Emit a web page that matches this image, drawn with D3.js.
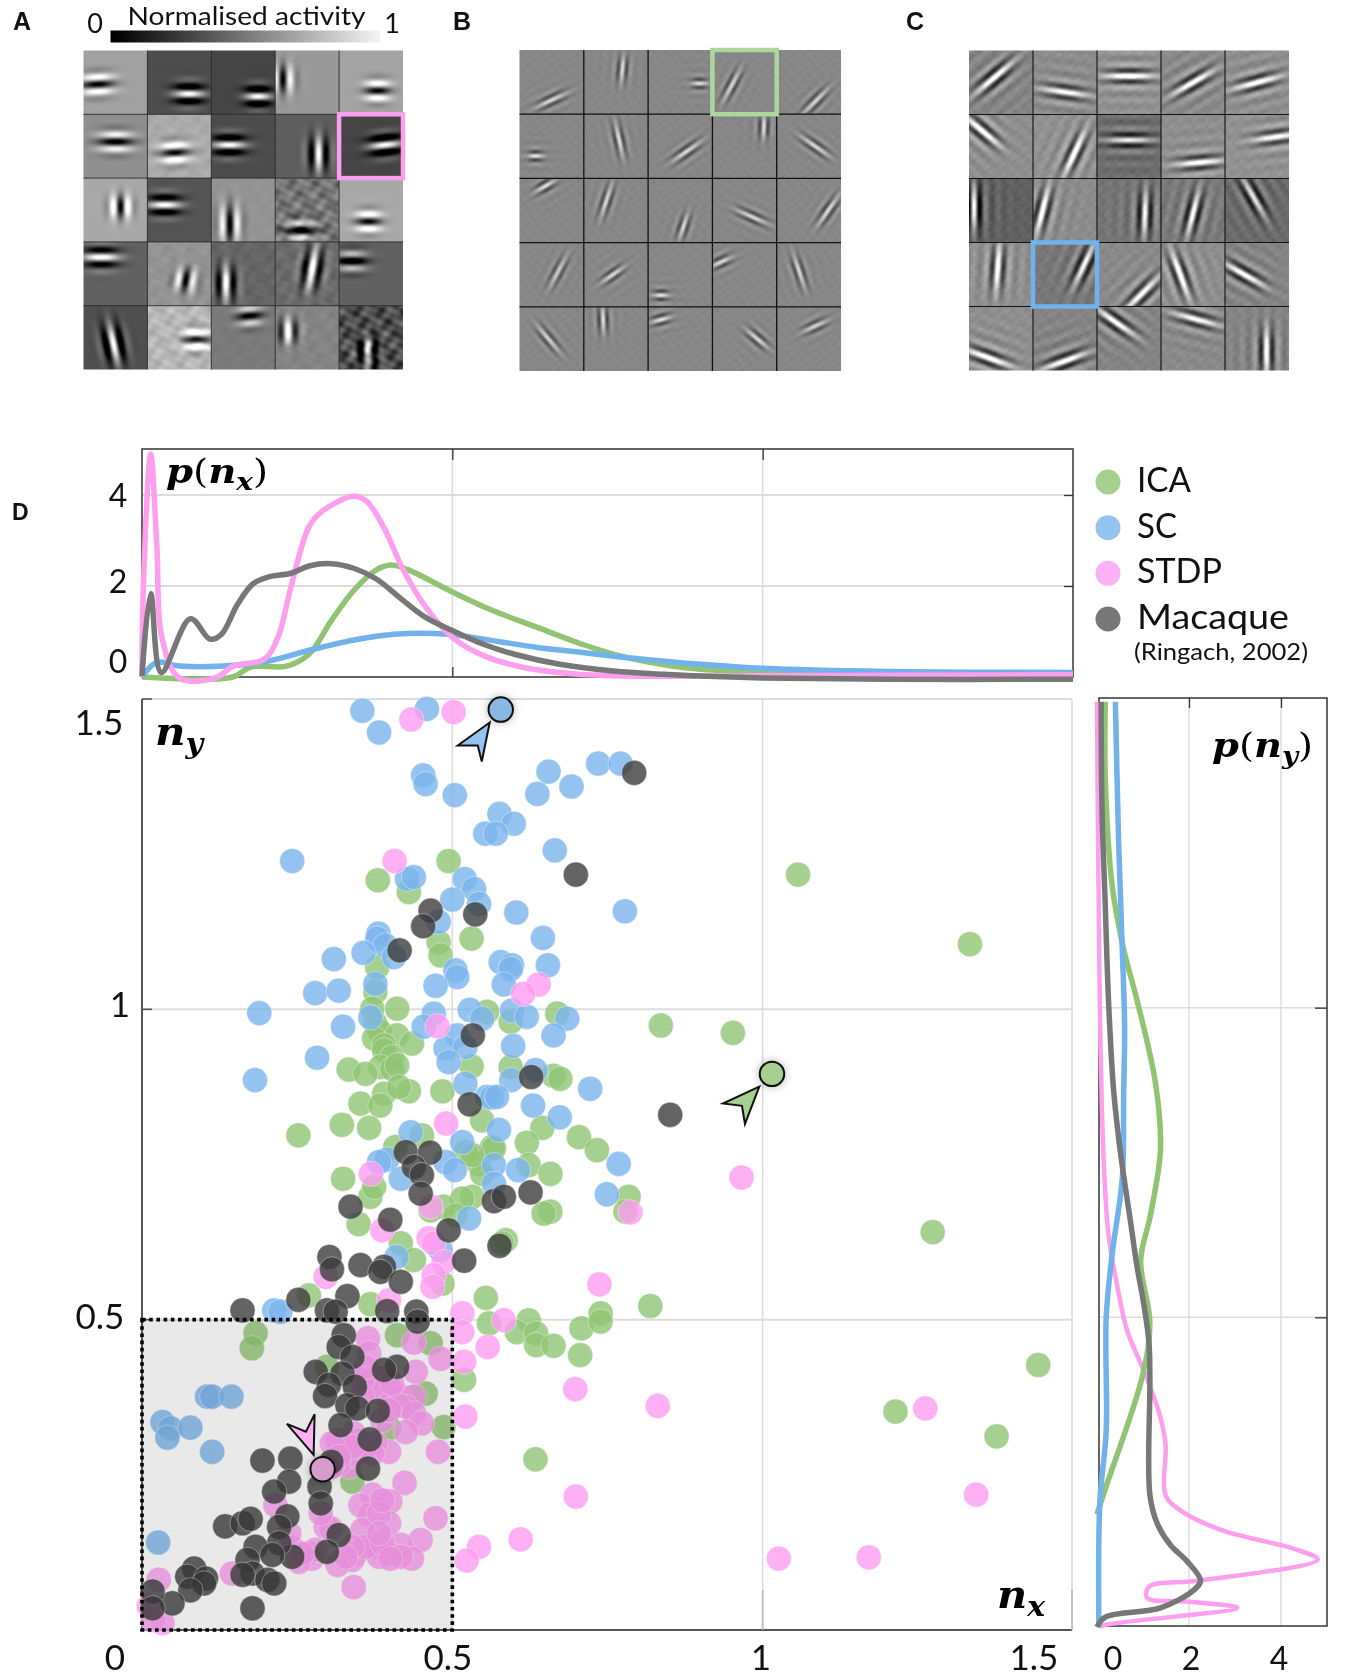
<!DOCTYPE html>
<html><head><meta charset="utf-8">
<style>html,body{margin:0;padding:0;background:#fff}svg{display:block}
text{font-family:Lato,sans-serif;fill:#111}
.panel{font-family:"Liberation Sans",sans-serif;font-weight:700}
.math{font-family:"DejaVu Serif",serif;font-weight:700;font-style:italic;fill:#000}
</style>
<script src="https://cdn.jsdelivr.net/npm/d3@7"></script></head><body>
<svg id="fig" width="1350" height="1677" viewBox="0 0 1350 1677"></svg>
<script>
// ---------- receptive-field tiles: [background, centre x, centre y, stripe angle, amplitude, along-stripe sigma, texture]
const tilesA=[
[.63,.22,.53,3,-.66,.14,0],[.3,.65,.68,0,.72,.13,0],[.27,.73,.72,0,.75,.11,0],[.6,.12,.45,90,-.62,.12,0],[.64,.6,.63,0,-.66,.11,0],
[.56,.5,.43,0,-.64,.15,0],[.67,.43,.6,3,-.66,.13,.02],[.3,.28,.48,0,.72,.14,0],[.37,.68,.62,90,.66,.15,0],[.27,.72,.48,6,.74,.14,0],
[.66,.58,.45,90,-.68,.1,0],[.33,.27,.42,0,.7,.14,0],[.58,.29,.72,90,-.62,.16,.01],[.46,.4,.82,0,-.6,.14,.09],[.66,.46,.68,0,-.66,.11,0],
[.38,.28,.24,0,.7,.15,0],[.58,.6,.6,80,-.62,.1,.02],[.4,.23,.65,90,.68,.15,.02],[.42,.58,.42,80,.68,.18,.03],[.38,.2,.3,0,-.58,.13,0],
[.31,.47,.6,-78,.72,.17,0],[.72,.77,.53,0,-.66,.12,.05],[.48,.6,.16,5,-.55,.11,.01],[.52,.2,.4,90,.6,.11,.02],[.3,.45,.72,90,.65,.13,.12]];
const tilesB=[
[.53,.5,.78,25,.3],[.53,.6,.3,85,.33,.12],[.53,.8,.52,0,.34,.07],[.53,.3,.55,62,.3],[.53,.6,.8,45,.3],
[.53,.25,.65,0,.36,.07],[.53,.55,.4,-78,.32],[.53,.6,.58,35,.32],[.53,.8,.2,88,.34,.11],[.53,.6,.5,-35,.3],
[.53,.4,.12,30,.34,.1],[.53,.35,.35,72,.3],[.53,.55,.75,72,.3,.12],[.53,.62,.6,-24,.3],[.53,.8,.5,55,.32],
[.53,.6,.45,62,.26],[.53,.45,.5,35,.3,.12],[.53,.2,.82,0,.36,.07],[.53,.14,.3,25,.32,.1],[.53,.35,.45,-72,.3],
[.53,.45,.5,-50,.28],[.53,.3,.2,-88,.34,.12],[.53,.2,.2,15,.34,.09],[.53,.7,.5,-40,.3,.13],[.53,.6,.3,25,.28,.12]];
const tilesC=[
[.52,.4,.42,40,.5],[.55,.5,.65,-8,.42],[.57,.5,.4,0,.5],[.54,.5,.5,30,.46],[.56,.5,.5,15,.46],
[.56,.2,.25,-40,.46],[.57,.65,.6,65,.46],[.43,.5,.4,0,.44],[.56,.6,.75,5,.44],[.57,.8,.35,8,.42],
[.38,.08,.45,90,.55],[.55,.15,.5,76,.48],[.46,.75,.55,88,.48],[.48,.5,.55,76,.48],[.42,.45,.3,-60,.44],
[.56,.45,.4,86,.46],[.47,.8,.35,65,.46],[.54,.7,.8,45,.44],[.56,.3,.5,-70,.48],[.52,.3,.5,-30,.46],
[.56,.3,.8,-20,.48],[.52,.5,.85,20,.48],[.52,.3,.25,-35,.46],[.54,.55,.2,-15,.42],[.52,.65,.7,90,.5]];

// ---------- distributions: [value, density] pairs
const pxICA=[[0,0],[.146,0],[.175,.22],[.233,.24],[.269,.5],[.305,1.24],[.341,1.9],[.377,2.35],[.402,2.46],[.428,2.36],[.5,1.87],[.565,1.46],[.637,1.09],[.709,.72],[.78,.43],[.854,.24],[.9,.17],[1,.1],[1.2,.05],[1.5,.03]];
const pxSC=[[0,0],[.024,.32],[.06,.24],[.132,.24],[.204,.35],[.276,.61],[.348,.83],[.406,.94],[.493,.94],[.565,.8],[.637,.65],[.709,.54],[.78,.43],[.9,.28],[1,.19],[1.2,.12],[1.5,.1]];
const pxSTDP=[[0,0],[.002,1.9],[.014,4.9],[.024,2.87],[.032,.87],[.06,-.02],[.118,-.02],[.147,.24],[.197,.39],[.219,.87],[.24,1.98],[.269,3.3],[.29,3.64],[.341,3.97],[.362,3.86],[.391,3.25],[.421,2.35],[.457,1.54],[.5,.87],[.55,.47],[.615,.21],[.695,.07],[.78,.02],[1,.03],[1.5,.05]];
const pxMacaque=[[0,.02],[.014,1.83],[.031,.1],[.078,1.28],[.11,.83],[.128,.94],[.154,1.6],[.179,2.05],[.204,2.2],[.24,2.28],[.269,2.44],[.305,2.49],[.341,2.39],[.377,2.16],[.421,1.68],[.457,1.31],[.5,1.02],[.55,.72],[.6,.5],[.673,.28],[.76,.13],[.84,.06],[.9,.02],[1,-.02],[1.2,-.05],[1.5,-.05]];
const pyICA=[[0,.182],[.18,.223],[.98,.403],[1.15,.49],[.95,.592],[1.16,.664],[1.38,.772],[1.27,.879],[.87,1.012],[.58,1.094],[.33,1.197],[.18,1.371],[.18,1.494]];
const pySC=[[.04,0],[.04,.141],[.07,.213],[.2,.316],[.2,.5],[.33,.602],[.55,.725],[.58,.859],[.6,.971],[.55,1.094],[.47,1.268],[.4,1.494]];
const pySTDP=[[.07,0],[.15,.003],[3.05,.031],[1.95,.041],[1.09,.047],[1.13,.065],[2.25,.075],[4.8,.109],[4.29,.126],[2.69,.157],[1.82,.188],[1.49,.213],[1.49,.295],[1.35,.346],[1.02,.413],[.65,.48],[.44,.551],[.25,.633],[.15,.746],[.09,.889],[.06,1.012],[.03,1.217],[0,1.494]];
const pyMacaque=[[0,0],[.18,.016],[1.38,.031],[2.11,.06],[2.25,.075],[1.96,.106],[1.6,.132],[1.31,.167],[1.15,.213],[1.15,.398],[1.13,.459],[1.02,.52],[.87,.582],[.73,.654],[.51,.766],[.36,.868],[.25,1.012],[.18,1.165],[.11,1.318],[.09,1.494]];

// ---------- scatter values: [nx, ny]
const icaPoints=[[.380,1.208],[.430,1.189],[.494,1.239],[.531,1.114],[.478,1.108],[.481,1.087],[.379,1.068],[.376,1.028],[.371,1.001],[.411,1.001],[.556,.996],[.669,.993],[.594,.980],[.376,.977],[.382,.966],[.374,.953],[.411,.958],[.435,.945],[.390,.942],[.390,.934],[.403,.923],[.384,.907],[.403,.904],[.411,.910],[.333,.903],[.360,.896],[.390,.864],[.430,.868],[.414,.875],[.352,.848],[.384,.845],[.484,.868],[.531,.908],[.594,.907],[.663,.893],[.674,.888],[.322,.814],[.366,.809],[.252,.797],[.548,.821],[.645,.809],[.620,.785],[.704,.794],[.733,.773],[.451,.797],[.408,.778],[.564,.778],[.521,.770],[.543,.751],[.623,.749],[.658,.735],[.324,.727],[.548,.735],[.836,.974],[.952,.962],[1.057,1.217],[.567,.776],[.532,.765],[.368,.698],[.374,.714],[.532,.698],[.516,.695],[.349,.654],[.486,.682],[.465,.676],[.505,.668],[.784,.698],[.779,.674],[.658,.674],[.647,.671],[.586,.628],[.580,.623],[.417,.623],[.438,.596],[.484,.558],[.269,.539],[.368,.525],[.554,.535],[.559,.494],[.623,.499],[.604,.480],[.635,.478],[.635,.459],[.663,.458],[.708,.486],[.739,.510],[.739,.497],[.706,.443],[.819,.522],[.411,.475],[.465,.462],[.519,.403],[.634,.275],[.457,.381],[.486,.327],[.441,.376],[.183,.478],[.177,.454],[.298,.424],[.339,.239],[.398,.325],[1.334,1.105],[1.274,.641],[1.444,.427],[1.214,.352],[1.377,.312]];
const scPoints=[[.355,1.481],[.382,1.446],[.459,1.484],[.453,1.377],[.457,1.363],[.504,1.345],[.655,1.383],[.637,1.347],[.692,1.359],[.735,1.396],[.771,1.396],[.576,1.315],[.599,1.299],[.553,1.283],[.570,1.283],[.665,1.256],[.242,1.239],[.427,1.210],[.438,1.213],[.520,1.210],[.535,1.194],[.543,1.170],[.500,1.177],[.603,1.156],[.778,1.158],[.478,1.141],[.381,1.122],[.379,1.114],[.392,1.103],[.406,1.084],[.357,1.091],[.309,1.081],[.279,1.026],[.317,1.030],[.646,1.115],[.578,1.076],[.596,1.071],[.594,1.065],[.654,1.071],[.583,1.040],[.505,1.063],[.508,1.052],[.376,1.041],[.473,1.038],[.189,.994],[.528,.999],[.470,.993],[.368,.987],[.596,.998],[.620,.988],[.685,.985],[.548,.985],[.324,.972],[.454,.972],[.663,.958],[.508,.958],[.489,.937],[.521,.939],[.598,.941],[.282,.922],[.494,.915],[.182,.886],[.634,.902],[.595,.886],[.722,.872],[.521,.880],[.556,.859],[.564,.858],[.572,.859],[.630,.845],[.673,.826],[.575,.806],[.433,.802],[.516,.786],[.395,.758],[.382,.754],[.489,.754],[.567,.749],[.504,.741],[.606,.741],[.417,.727],[.567,.719],[.768,.751],[.749,.702],[.527,.663],[.410,.601],[.481,.612],[.213,.515],[.223,.513],[.105,.376],[.113,.376],[.144,.376],[.033,.335],[.046,.325],[.078,.326],[.041,.310],[.113,.287],[.026,.141]];
const stdpPoints=[[.434,1.467],[.502,1.479],[.407,1.239],[.639,1.040],[.614,1.025],[.476,.973],[.490,.816],[.369,.735],[.465,.682],[.387,.644],[.462,.631],[.470,.623],[.486,.593],[.470,.572],[.468,.553],[.296,.569],[.398,.531],[.364,.470],[.366,.446],[.438,.463],[.481,.437],[.441,.416],[.787,.673],[.966,.729],[1.262,.357],[1.344,.218],[1.026,.115],[1.171,.117],[.698,.388],[.831,.361],[.737,.557],[.583,.499],[.557,.456],[.516,.510],[.516,.480],[.519,.432],[.521,.344],[.699,.215],[.610,.146],[.543,.134],[.523,.112],[.376,.408],[.387,.381],[.403,.384],[.371,.392],[.355,.403],[.417,.376],[.438,.376],[.425,.360],[.414,.362],[.438,.349],[.451,.333],[.425,.319],[.398,.287],[.376,.301],[.341,.317],[.315,.306],[.325,.290],[.344,.284],[.333,.263],[.317,.268],[.477,.287],[.423,.237],[.371,.218],[.400,.207],[.352,.201],[.366,.185],[.398,.172],[.473,.180],[.449,.145],[.355,.161],[.379,.137],[.374,.134],[.417,.137],[.435,.115],[.398,.123],[.382,.118],[.344,.123],[.339,.113],[.315,.105],[.274,.115],[.269,.123],[.253,.110],[.242,.132],[.145,.091],[.027,.081],[.341,.069],[.296,.166],[.304,.164],[.288,.188],[.215,.201],[.237,.156],[.017,.016],[.033,.011],[.011,.038],[.360,.134],[.387,.140],[.417,.118],[.400,.115],[.339,.134],[.328,.118],[.280,.129],[.258,.123],[.387,.338],[.349,.306],[.360,.295],[.371,.284],[.339,.295],[.306,.301],[.317,.279],[.306,.263],[.398,.354],[.403,.397],[.360,.424],[.355,.376],[.382,.188],[.387,.209],[.382,.156]];
const macaquePoints=[[.699,1.217],[.465,1.159],[.453,1.134],[.537,1.153],[.415,1.095],[.533,.958],[.627,.891],[.528,.847],[.425,.770],[.464,.769],[.438,.746],[.451,.733],[.793,1.381],[.851,.830],[.449,.703],[.336,.682],[.400,.661],[.567,.691],[.583,.698],[.626,.705],[.494,.644],[.576,.619],[.519,.595],[.302,.601],[.306,.581],[.352,.588],[.390,.585],[.384,.577],[.417,.561],[.331,.538],[.298,.515],[.312,.513],[.252,.532],[.395,.514],[.442,.513],[.444,.497],[.325,.475],[.317,.456],[.339,.440],[.280,.416],[.411,.424],[.390,.419],[.323,.413],[.301,.395],[.343,.392],[.295,.377],[.331,.362],[.347,.357],[.380,.353],[.320,.330],[.367,.307],[.305,.271],[.364,.260],[.194,.273],[.239,.276],[.237,.239],[.213,.223],[.286,.231],[.288,.204],[.234,.183],[.134,.167],[.162,.172],[.175,.179],[.221,.166],[.317,.153],[.298,.126],[.242,.118],[.221,.140],[.183,.134],[.170,.113],[.210,.121],[.178,.091],[.162,.089],[.202,.081],[.213,.075],[.178,.035],[.084,.099],[.073,.086],[.103,.083],[.100,.075],[.078,.064],[.049,.043],[.017,.062],[.017,.035],[.162,.515]];
// highlighted examples (one per model)
const highlights=[
 {name:"ICA",nx:1.015,ny:.896},
 {name:"SC",nx:.578,ny:1.483},
 {name:"STDP",nx:.291,ny:.259}];
const seriesNames=["ICA","SC","STDP","Macaque"];
const legendSub="(Ringach, 2002)";
const xTicks=[0,.5,1,1.5], yTicks=[.5,1,1.5], pTicks=[0,2,4];

// ---------- styles
const colour={ICA:"#90c473",SC:"#7ab4eb",STDP:"#fc9cf0",Macaque:"#3c3c3c"};
const lineColour={ICA:"#90c473",SC:"#72b2ea",STDP:"#fd9eee",Macaque:"#777777"};
const frameColour="#333", gridColour="#dcdcdc";
const svg=d3.select("#fig");

// ---------- tile rendering
function texture(px,py,i,f){
 px*=f;py*=f;
 return Math.sin(px*37+i*1.7+py*11)*Math.cos(py*41-i*2.3)+.7*Math.sin(px*63-py*29+i)*Math.sin(py*71+px*13+i*.6);
}
function drawPanel(tiles,x0,x1,y0,y1,o){
 const res=96,c=document.createElement("canvas");
 c.width=c.height=res*5;
 const ctx=c.getContext("2d"),img=ctx.createImageData(res*5,res*5);
 tiles.forEach((t,i)=>{
  const col=i%5,row=Math.floor(i/5),[bg,cx,cy,deg,amp,su0,tex0]=t;
  const th=deg*Math.PI/180,co=Math.cos(th),si=Math.sin(th),su=(su0||o.su)*o.suScale,tx=tex0===undefined?o.tex:tex0;
  for(let py=0;py<res;py++)for(let px=0;px<res;px++){
   const fx=(px+.5)/res,fy=(py+.5)/res,dx=fx-cx,dy=fy-cy;
   const u=dx*co-dy*si,v=dx*si+dy*co;
   let val=bg+amp*Math.exp(-(u*u)/(2*su*su)-(v*v)/(2*o.sv*o.sv))*Math.cos(2*Math.PI*v/o.lambda);
   if(o.ripple)val+=amp*o.ripple*Math.exp(-(dx*dx+dy*dy)/(2*o.rs*o.rs))*Math.cos(2*Math.PI*v/o.lambda);
   if(tx)val+=tx*texture(fx,fy,i,o.texFreq);
   val=Math.max(0,Math.min(1,val));
   const g=Math.round(val*255),idx=((row*res+py)*res*5+col*res+px)*4;
   img.data[idx]=img.data[idx+1]=img.data[idx+2]=g;img.data[idx+3]=255;
  }
 });
 ctx.putImageData(img,0,0);
 svg.append("image").attr("x",x0).attr("y",y0).attr("width",x1-x0).attr("height",y1-y0)
   .attr("preserveAspectRatio","none").attr("href",c.toDataURL());
 const bx=d3.scaleLinear().domain([0,5]).range([x0,x1]),by=d3.scaleLinear().domain([0,5]).range([y0,y1]);
 const g=svg.append("g").attr("stroke",o.line).attr("stroke-width",o.lw);
 d3.range(1,5).forEach(k=>{
  g.append("line").attr("x1",bx(k)).attr("x2",bx(k)).attr("y1",y0).attr("y2",y1);
  g.append("line").attr("y1",by(k)).attr("y2",by(k)).attr("x1",x0).attr("x2",x1);
 });
 if(o.box){
  svg.append("rect").attr("x",bx(o.box[0])).attr("y",by(o.box[1])).attr("width",bx(1)-bx(0)).attr("height",by(1)-by(0))
   .attr("fill","none").attr("stroke",o.box[2]).attr("stroke-width",4.5);
 }
}
drawPanel(tilesA,83.5,403,50.5,369.5,{su:.13,suScale:1.25,sv:.125,lambda:.25,tex:0,texFreq:.45,line:"#2a2a2a",lw:.9,box:[4,1,"#fd9eee"]});
drawPanel(tilesB,519.5,841,50,371,{su:.16,suScale:1.1,sv:.07,lambda:.14,tex:.012,texFreq:1,ripple:.07,rs:.25,line:"#111",lw:1.3,box:[3,0,"#aed69a"]});
drawPanel(tilesC,969,1289,50.5,370.5,{su:.24,suScale:1,sv:.09,lambda:.19,tex:.02,texFreq:.8,ripple:.16,rs:.35,line:"#111",lw:1.1,box:[1,3,"#6fb3ee"]});

// colour bar
const defs=svg.append("defs");
const lg=defs.append("linearGradient").attr("id","cb");
lg.append("stop").attr("offset",0).attr("stop-color","#000");
lg.append("stop").attr("offset",.04).attr("stop-color","#050505");
lg.append("stop").attr("offset",1).attr("stop-color","#f4f4f4");
svg.append("rect").attr("x",110.5).attr("y",30.5).attr("width",270).attr("height",12).attr("fill","url(#cb)");
svg.append("text").attr("x",127.5).attr("y",24.5).attr("font-size",24.8).attr("textLength",238).attr("lengthAdjust","spacingAndGlyphs").text("Normalised activity");
svg.append("text").attr("x",95).attr("y",33).attr("text-anchor","middle").attr("font-size",27).text("0");
svg.append("text").attr("x",392).attr("y",33).attr("text-anchor","middle").attr("font-size",27).text("1");
[["A",13,30],["B",453,30],["C",906,30],["D",12,520]].forEach(d=>
 svg.append("text").attr("class","panel").attr("x",d[1]).attr("y",d[2]).attr("font-size",d[0]==="D"?23:25).text(d[0]));

// ---------- scales
const X=d3.scaleLinear().domain([0,1.5]).range([142,1073]);
const Y=d3.scaleLinear().domain([0,1.5]).range([1630,699]);
const PY=d3.scaleLinear().domain([0,4]).range([677,495]);
const PX=d3.scaleLinear().domain([0,4]).range([1097,1281]);
const tickLabel=d=>String(d);
const styleTicks=g=>{g.select(".domain").remove();g.selectAll("line").attr("stroke",frameColour).attr("stroke-width",1.3)};

// ---------- top marginal
const topG=svg.append("g");
const tl=142,tr=1073,tt=449,tb=677;
[2,4].forEach(v=>topG.append("line").attr("x1",tl).attr("x2",tr).attr("y1",PY(v)).attr("y2",PY(v)).attr("stroke",gridColour).attr("stroke-width",2));
[.5,1].forEach(v=>topG.append("line").attr("x1",X(v)).attr("x2",X(v)).attr("y1",tt).attr("y2",tb).attr("stroke",gridColour).attr("stroke-width",1.5));
topG.append("g").attr("transform",`translate(0,${tt})`).call(d3.axisTop(X).tickValues([.5,1]).tickSize(-11).tickFormat("")).call(styleTicks);
topG.append("g").attr("transform",`translate(0,${tb})`).call(d3.axisBottom(X).tickValues([.5,1]).tickSize(-10).tickFormat("")).call(styleTicks);
topG.append("g").attr("transform",`translate(${tr},0)`).call(d3.axisRight(PY).tickValues([2,4]).tickSize(-9).tickFormat("")).call(styleTicks);
topG.append("rect").attr("x",tl).attr("y",tt).attr("width",tr-tl).attr("height",tb-tt).attr("fill","none").attr("stroke",frameColour).attr("stroke-width",1.5);
const topLine=d3.line().x(d=>Math.min(X(d[0]),tr)).y(d=>PY(d[1])).curve(d3.curveCatmullRom.alpha(.5));
[["ICA",pxICA],["SC",pxSC],["STDP",pxSTDP],["Macaque",pxMacaque]].forEach(([n,d])=>
 topG.append("path").attr("d",topLine(d)).attr("fill","none").attr("stroke",lineColour[n]).attr("stroke-width",5.5).attr("stroke-linejoin","round"));
const pLabelOffsets={0:[-24,-4],2:[-24,7],4:[-24,12]};
topG.selectAll(".pl").data(pTicks).join("text").attr("class","pl").attr("text-anchor","middle").attr("font-size",32)
 .attr("x",d=>tl+pLabelOffsets[d][0]).attr("y",d=>PY(d)+pLabelOffsets[d][1]).text(tickLabel);

// ---------- right marginal
const rightG=svg.append("g");
const rl=1099,rr=1327,rt=698,rb=1626;
const RY=d3.scaleLinear().domain([0,1.5]).range([1627,698]);
[.5,1].forEach(v=>rightG.append("line").attr("x1",rl).attr("x2",rr).attr("y1",RY(v)).attr("y2",RY(v)).attr("stroke",gridColour).attr("stroke-width",1.5));
[2,4].forEach(v=>rightG.append("line").attr("x1",PX(v)).attr("x2",PX(v)).attr("y1",rt).attr("y2",rb).attr("stroke",gridColour).attr("stroke-width",1.5));
rightG.append("g").attr("transform",`translate(0,${rt})`).call(d3.axisTop(PX).tickValues([2,4]).tickSize(-10).tickFormat("")).call(styleTicks);
rightG.append("g").attr("transform",`translate(${rr},0)`).call(d3.axisRight(RY).tickValues([.5,1]).tickSize(-12).tickFormat("")).call(styleTicks);
rightG.append("rect").attr("x",rl).attr("y",rt).attr("width",rr-rl).attr("height",rb-rt).attr("fill","none").attr("stroke",frameColour).attr("stroke-width",1.5);
const rightLine=d3.line().x(d=>PX(d[0])).y(d=>RY(d[1])).curve(d3.curveCatmullRom.alpha(.5));
[["STDP",pySTDP],["ICA",pyICA],["SC",pySC],["Macaque",pyMacaque]].forEach(([n,d])=>
 rightG.append("path").attr("d",rightLine(d)).attr("fill","none").attr("stroke",lineColour[n]).attr("stroke-width",n==="STDP"?4.5:5.5).attr("stroke-linejoin","round"));
const rLabelX={0:1113,2:1191,4:1279};
rightG.selectAll(".rl").data(pTicks).join("text").attr("class","rl").attr("text-anchor","middle").attr("font-size",32)
 .attr("x",d=>rLabelX[d]).attr("y",1670).text(tickLabel);

// ---------- scatter
const sc=svg.append("g");
const sl=X(0),sr=1072,st=Y(1.5),sb=Y(0);
yTicks.forEach(v=>sc.append("line").attr("x1",sl).attr("x2",sr).attr("y1",Y(v)).attr("y2",Y(v)).attr("stroke",gridColour).attr("stroke-width",2));
[.5,1,1.5].forEach(v=>sc.append("line").attr("x1",Math.min(X(v),sr)).attr("x2",Math.min(X(v),sr)).attr("y1",st).attr("y2",sb).attr("stroke",gridColour).attr("stroke-width",1.6));
sc.append("line").attr("x1",sl).attr("x2",sl).attr("y1",st).attr("y2",sb).attr("stroke","#555").attr("stroke-width",2);
sc.append("line").attr("x1",sl).attr("x2",sr).attr("y1",sb).attr("y2",sb).attr("stroke","#555").attr("stroke-width",2);
yTicks.forEach(v=>sc.append("line").attr("x1",sl).attr("x2",sl+10).attr("y1",Y(v)).attr("y2",Y(v)).attr("stroke","#555").attr("stroke-width",1.6));
[1,1.5].forEach(v=>sc.append("line").attr("x1",Math.min(X(v),sr)).attr("x2",Math.min(X(v),sr)).attr("y1",sb).attr("y2",sb-40).attr("stroke","#bbb").attr("stroke-width",1.6));
const pointSets=[["ICA",icaPoints],["SC",scPoints],["STDP",stdpPoints],["Macaque",macaquePoints]];
pointSets.forEach(([n,pts])=>{
 sc.append("g").selectAll("circle").data(pts).join("circle")
  .attr("cx",d=>X(d[0])).attr("cy",d=>Y(d[1])).attr("r",12.6)
  .attr("fill",colour[n]).attr("fill-opacity",.8)
  .attr("stroke","#fff").attr("stroke-opacity",.4).attr("stroke-width",1);
});
// shaded inset multiplies over the points, then its dotted edge
sc.append("rect").attr("x",X(0)).attr("y",Y(.5)).attr("width",X(.5)-X(0)).attr("height",Y(0)-Y(.5))
 .attr("fill","#e9e9e9").style("mix-blend-mode","multiply");
sc.append("rect").attr("x",X(0)).attr("y",Y(.5)).attr("width",X(.5)-X(0)).attr("height",Y(0)-Y(.5)).attr("fill","none")
 .attr("stroke","#000").attr("stroke-width",3.6).attr("stroke-dasharray","3.6 3.6");
// highlights and pointers
defs.append("filter").attr("id","glow").attr("x","-50%").attr("y","-50%").attr("width","200%").attr("height","200%")
 .append("feDropShadow").attr("dx",0).attr("dy",0).attr("stdDeviation",4).attr("flood-color","#000").attr("flood-opacity",.3);
const pointer={ICA:[[-12.7,12.7],[-49,29.6],[-30,32],[-27,50]],SC:[[-11,13],[-43,36],[-23,36],[-19,52]],STDP:[[-9,-14.3],[-8,-55],[-16.7,-37.6],[-35.7,-45.3]]};
const pointerFill={ICA:"#a6d08f",SC:"#95c3ef",STDP:"#fdb0f3"};
highlights.forEach(h=>{
 const cx=X(h.nx),cy=Y(h.ny);
 sc.append("circle").attr("cx",cx).attr("cy",cy).attr("r",12.2).attr("fill",h.name==="STDP"?"#d79ccc":(h.name==="SC"?"#8ab8e0":"#a6d08f"))
  .attr("stroke","#111").attr("stroke-width",2).attr("filter","url(#glow)");
 sc.append("path").attr("d","M"+pointer[h.name].map(p=>[cx+p[0],cy+p[1]].join(",")).join("L")+"Z")
  .attr("fill",pointerFill[h.name]).attr("stroke","#111").attr("stroke-width",2).attr("stroke-linejoin","miter");
});
// tick labels (hand-placed in the original, offset from their ticks)
const yLabelPos={.5:[100,Y(.5)+9],1:[120,Y(1)+8],1.5:[99,Y(1.5)+36]};
sc.selectAll(".yl").data(yTicks).join("text").attr("class","yl").attr("text-anchor","middle").attr("font-size",35)
 .attr("x",d=>yLabelPos[d][0]).attr("y",d=>yLabelPos[d][1]).text(tickLabel);
const xLabelPos={0:115,.5:448,1:761,1.5:1034};
sc.selectAll(".xl").data(xTicks).join("text").attr("class","xl").attr("text-anchor","middle").attr("font-size",35)
 .attr("x",d=>xLabelPos[d]).attr("y",1670).text(tickLabel);

// math labels
function mathLabel(x,y,size,len,parts){
 const t=svg.append("text").attr("class","math").attr("x",x).attr("y",y).attr("font-size",size)
  .attr("textLength",len).attr("lengthAdjust","spacingAndGlyphs");
 parts.forEach(p=>{
  const s=t.append("tspan").text(p.t);
  if(p.sub)s.attr("font-size",size*.72).attr("dy",size*.2);
  if(p.back)s.attr("dy",-size*.2);
  if(p.plain)s.attr("font-style","normal").attr("font-weight",400);
 });
}
mathLabel(166,483,34,102,[{t:"p"},{t:"(",plain:1},{t:"n"},{t:"x",sub:1},{t:")",plain:1,back:1}]);
mathLabel(1212,757,34,101,[{t:"p"},{t:"(",plain:1},{t:"n"},{t:"y",sub:1},{t:")",plain:1,back:1}]);
mathLabel(155,745,40,48,[{t:"n"},{t:"y",sub:1}]);
mathLabel(997,1608,40,48,[{t:"n"},{t:"x",sub:1}]);

// legend
const legendY=d3.scalePoint().domain(seriesNames).range([482,619]);
const legendLen={ICA:54,SC:40,STDP:85,Macaque:152};
const leg=svg.append("g");
seriesNames.forEach(n=>{
 leg.append("circle").attr("cx",1108).attr("cy",legendY(n)).attr("r",12.5).attr("fill",n==="Macaque"?"#777":colour[n]).attr("fill-opacity",n==="Macaque"?1:.8);
 leg.append("text").attr("x",1137).attr("y",legendY(n)+10).attr("font-size",34).attr("textLength",legendLen[n]).attr("lengthAdjust","spacingAndGlyphs").text(n);
});
leg.append("text").attr("x",1134).attr("y",660).attr("font-size",24).attr("textLength",174).attr("lengthAdjust","spacingAndGlyphs").text(legendSub);
</script></body></html>
